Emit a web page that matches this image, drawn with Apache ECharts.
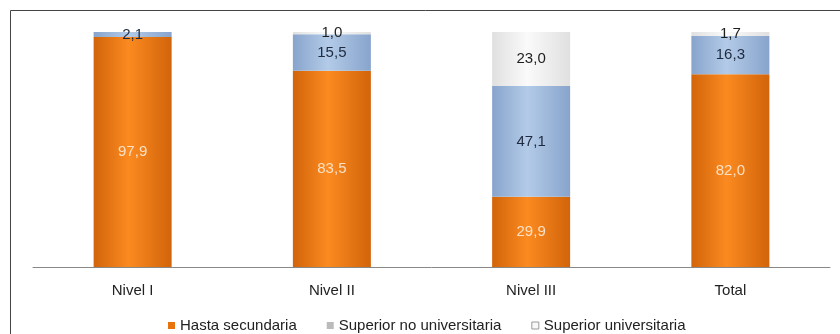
<!DOCTYPE html>
<html>
<head>
<meta charset="utf-8">
<script src="https://cdn.jsdelivr.net/npm/echarts@6/dist/echarts.min.js"></script>
<style>
  html, body { margin: 0; padding: 0; background: #fff; }
  #chart { width: 840px; height: 334px; }
</style>
</head>
<body>
<div id="chart"></div>
<script>
  // datos
  const categorias = ['Nivel I', 'Nivel II', 'Nivel III', 'Total'];
  const hastaSecundaria = [97.9, 83.5, 29.9, 82.0];
  const superiorNoUniv = [2.1, 15.5, 47.1, 16.3];
  const superiorUniv = [0, 1.0, 23.0, 1.7];

  const chart = echarts.init(document.getElementById('chart'));

  // gradiente horizontal para simular el cilindro
  const cyl = (edge, mid) => new echarts.graphic.LinearGradient(0, 0, 1, 0, [
    { offset: 0, color: edge },
    { offset: 0.45, color: mid },
    { offset: 1, color: edge }
  ]);

  const fmt = p => (p.value ? p.value.toFixed(1).replace('.', ',') : '');

  const option = {
    animation: false,
    textStyle: { fontFamily: 'Liberation Sans, Arial, sans-serif' },
    graphic: [{
      type: 'rect',
      shape: { x: 10.5, y: 10.5, width: 840, height: 340 },
      style: { fill: 'none', stroke: '#444', lineWidth: 1 }
    }],
    grid: { left: 33, right: 10, top: 32, bottom: 67 },
    legend: {
      top: 313,
      left: 163,
      icon: 'rect',
      itemWidth: 7,
      itemHeight: 7,
      itemGap: 30,
      textStyle: { fontSize: 15, color: '#222' },
      data: [
        { name: 'Hasta secundaria', itemStyle: { color: '#E8720C' } },
        { name: 'Superior no universitaria', itemStyle: { color: '#BBBBBB' } },
        { name: 'Superior universitaria', itemStyle: { color: '#F8F8F8', borderColor: '#999', borderWidth: 1 } }
      ]
    },
    xAxis: {
      type: 'category',
      data: categorias,
      axisLine: { lineStyle: { color: '#888' } },
      axisTick: { length: 4, lineStyle: { color: '#777' } },
      axisLabel: { fontSize: 15, color: '#222', margin: 16 }
    },
    yAxis: {
      type: 'value',
      min: 0,
      max: 100,
      show: false
    },
    series: [
      {
        name: 'Hasta secundaria',
        type: 'bar',
        stack: 'total',
        barWidth: 78,
        data: hastaSecundaria,
        itemStyle: { color: cyl('#D2640A', '#FB8A20') },
        label: { show: true, position: 'inside', color: '#FBE0C4', fontSize: 15, formatter: fmt }
      },
      {
        name: 'Superior no universitaria',
        type: 'bar',
        stack: 'total',
        barWidth: 78,
        data: superiorNoUniv,
        itemStyle: { color: cyl('#88A4CC', '#B3CBE8') },
        label: { show: true, position: 'inside', color: '#1E2A40', fontSize: 15, formatter: fmt }
      },
      {
        name: 'Superior universitaria',
        type: 'bar',
        stack: 'total',
        barWidth: 78,
        data: superiorUniv,
        itemStyle: { color: cyl('#E0E0E0', '#FAFAFA') },
        label: { show: true, position: 'inside', color: '#1E1E1E', fontSize: 15, formatter: fmt }
      }
    ]
  };

  chart.setOption(option);
</script>
</body>
</html>
